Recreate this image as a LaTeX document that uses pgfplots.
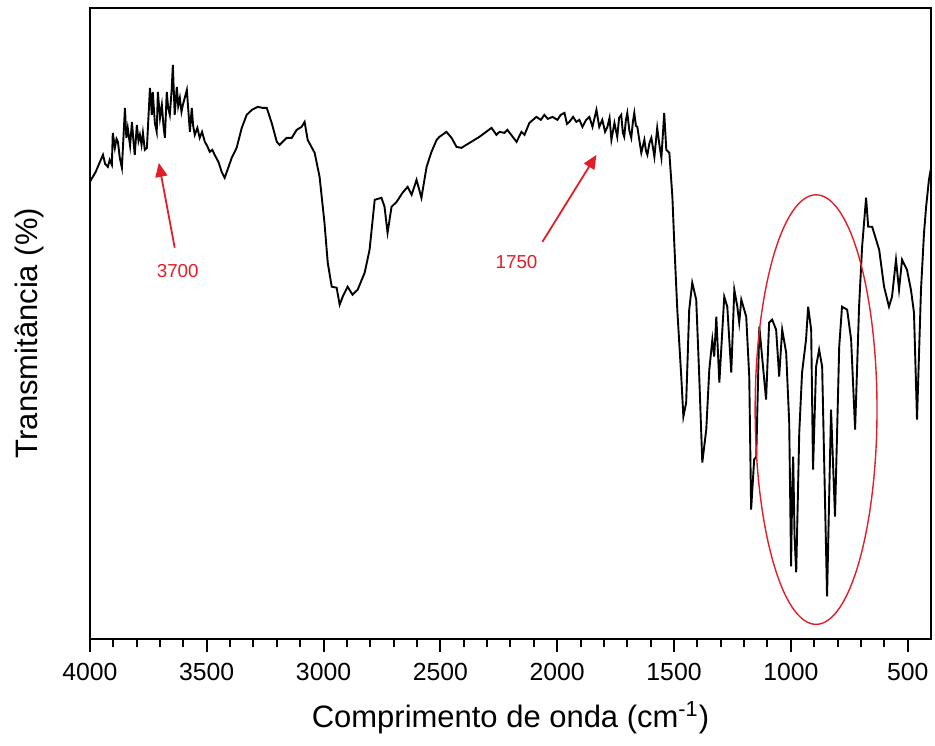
\documentclass[border=0pt]{standalone}
\usepackage{fontspec}
\setmainfont{Liberation Sans}
\usepackage{pgfplots}
\pgfplotsset{compat=1.18}
\usetikzlibrary{arrows.meta,calc}

\definecolor{annot}{RGB}{228,30,40}

\begin{document}
\begin{tikzpicture}
\begin{axis}[
  name=ax,
  scale only axis,
  width=421pt, height=316pt,
  x dir=reverse,
  xmin=400, xmax=4000,
  ymin=-2, ymax=630,
  xtick={500,1000,...,4000},
  minor x tick num=4,
  ytick=\empty,
  xtick pos=bottom,
  tick align=outside,
  major tick length=6.5pt,
  minor tick length=4pt,
  axis line style={line width=1pt},
  every tick/.style={black, line width=1pt},
  /pgf/number format/assume math mode=true,
  /pgf/number format/1000 sep={},
  ticklabel style={font=\fontsize{12.4}{14}\selectfont},
  xticklabel style={yshift=-2pt},
  xlabel={Comprimento de onda (cm\textsuperscript{-1})},
  ylabel={Transmitância (\%)},
  label style={font=\fontsize{15.5}{18}\selectfont},
  xlabel style={at={(axis description cs:0.5,-0.124)}, anchor=center},
  ylabel style={at={(axis description cs:-0.0713,0.485)}, anchor=center},
  clip=false,
]
\addplot[black, line width=0.95pt] table {
4000 456
3975 466
3957 476
3944 483
3935 474
3923 471
3915 478
3906 473
3902 505
3893 490
3886 499
3880 496
3872 480
3863 470
3850 530
3844 500
3838 510
3828 492
3820 516
3814 498
3808 483
3799 513
3792 497
3786 503
3779 493
3773 505
3765 488
3756 490
3743 550
3735 523
3731 546
3722 515
3714 506
3709 546
3700 520
3692 533
3685 512
3679 500
3671 546
3665 530
3658 523
3650 548
3645 573
3637 523
3628 551
3622 532
3615 540
3608 526
3602 533
3585 548
3578 525
3572 506
3564 530
3558 512
3551 503
3540 510
3530 500
3520 506
3508 496
3498 492
3487 486
3476 488
3466 483
3450 476
3436 466
3423 460
3408 470
3393 480
3372 490
3350 510
3329 523
3307 528
3282 531
3260 530
3243 530
3222 515
3200 496
3188 493
3158 500
3136 500
3115 508
3094 511
3081 516
3068 498
3038 485
3017 461
2996 415
2982 375
2965 351
2944 350
2931 333
2918 341
2897 351
2876 343
2854 348
2824 365
2803 388
2781 438
2752 440
2739 431
2726 405
2709 431
2687 436
2662 445
2640 451
2623 443
2602 458
2581 440
2559 471
2538 486
2516 498
2504 501
2474 506
2452 500
2431 491
2410 490
2375 495
2333 501
2281 510
2260 503
2247 506
2226 505
2213 508
2174 496
2153 506
2140 503
2119 515
2089 521
2070 518
2055 523
2040 519
2020 521
1999 518
1985 523
1969 525
1958 514
1948 516
1932 521
1918 516
1905 518
1892 511
1876 518
1862 521
1849 511
1840 520
1832 528
1820 511
1807 518
1795 506
1785 511
1776 520
1768 498
1755 515
1743 501
1735 520
1726 523
1719 505
1713 501
1706 518
1700 525
1691 507
1683 500
1676 516
1670 525
1663 512
1657 511
1648 497
1640 485
1627 498
1620 487
1614 483
1605 495
1597 500
1590 490
1584 481
1572 510
1562 492
1554 480
1542 525
1533 488
1520 485
1507 441
1499 395
1486 328
1469 261
1460 221
1448 235
1435 328
1422 355
1405 338
1392 261
1379 175
1362 208
1349 268
1336 298
1328 281
1319 321
1306 255
1285 341
1272 331
1255 265
1242 348
1229 331
1221 315
1212 338
1191 321
1178 261
1170 128
1157 178
1148 181
1135 311
1106 238
1093 315
1080 318
1063 308
1050 261
1037 308
1020 285
1007 215
999 71
994 150
990 181
984 100
977 65
964 205
952 265
935 298
926 331
913 308
905 168
892 271
879 288
866 271
845 41
828 228
811 121
793 291
781 331
759 328
742 298
725 208
708 331
695 391
678 440
669 411
652 411
622 388
601 351
580 331
567 341
550 378
537 348
524 378
503 368
486 348
473 325
460 218
443 348
430 405
421 431
409 458
400 470
};
% marked bands
\draw[annot, line width=0.9pt, -{Triangle[length=7pt,width=6pt]}]
  (axis cs:3637,390) -- (axis cs:3705,475);
\node[annot, font=\fontsize{9.4}{11}\selectfont] at (axis cs:3624,367) {3700};
\draw[annot, line width=0.9pt, -{Triangle[length=7pt,width=6pt]}]
  (axis cs:2063,396) -- (axis cs:1832,483);
\node[annot, font=\fontsize{9.4}{11}\selectfont] at (axis cs:2174,376) {1750};
% fingerprint region
\draw[annot, line width=0.7pt] (axis cs:892,228) ellipse [x radius=30.5pt, y radius=107.5pt];
\end{axis}
\path ($(ax.south west)+(-45pt,-53pt)$) rectangle ($(ax.north east)+(1.5pt,4pt)$);
\end{tikzpicture}
\end{document}
